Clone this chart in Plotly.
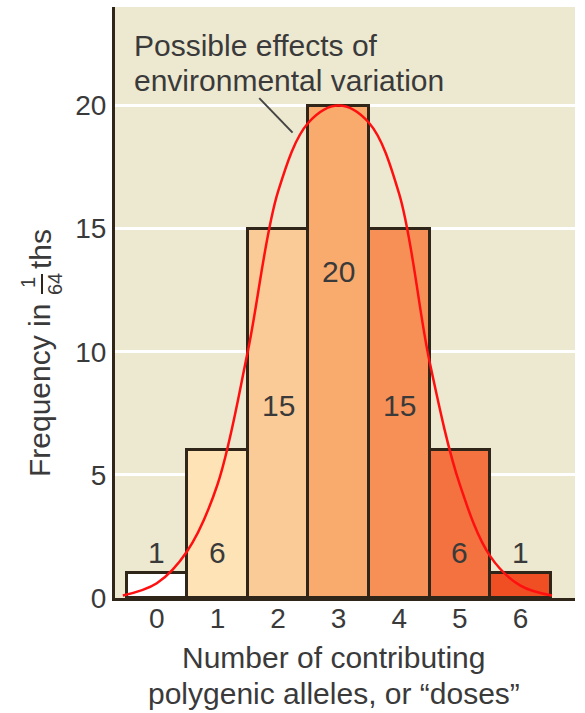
import plotly.graph_objects as go

# ---- data ----
doses = [0, 1, 2, 3, 4, 5, 6]
frequency = [1, 6, 15, 20, 15, 6, 1]
bar_labels = ["1", "6", "15", "20", "15", "6", "1"]
y_ticks = [0, 5, 10, 15, 20]
x_tick_labels = ["0", "1", "2", "3", "4", "5", "6"]

# environmental-variation curve, values every half dose
curve_x = [-0.56, 0, 0.5, 1, 1.5, 2, 2.5, 3, 3.5, 4, 4.5, 5, 5.5, 6, 6.52]
curve_y = [0.1, 0.6, 1.9, 4.6, 10.0, 16.5, 19.3, 20, 19.3, 16.4, 9.6, 4.6, 1.7, 0.5, 0.1]

# ---- styling ----
bar_colors = ["#FFFFFF", "#FDE3B6", "#FBCB97", "#F9AB6E", "#F79057", "#F3723F", "#EF4F23"]
label_y = [1.83, 1.83, 7.8, 13.25, 7.8, 1.83, 1.83]
dark = "#2f2519"
txt = "#3a3a3a"
FONT = "Liberation Sans, Arial, sans-serif"

L, R, T, B = 115, 10, 7, 115
W, H = 585, 713
PW, PH = W - L - R, H - T - B


def px(x):
    return (x - L) / PW


def py(y):
    return (H - B - y) / PH


fig = go.Figure()
fig.add_trace(go.Bar(
    x=doses, y=frequency, width=1,
    marker=dict(color=bar_colors, line=dict(color=dark, width=3)),
    hoverinfo="skip", showlegend=False,
))
fig.add_trace(go.Scatter(
    x=curve_x, y=curve_y, mode="lines",
    line=dict(color="#FF1010", width=2.5, shape="spline", smoothing=1.0),
    hoverinfo="skip", showlegend=False,
))

annotations = []
for xv, lab, ly in zip(doses, bar_labels, label_y):
    annotations.append(dict(x=xv, y=ly, xref="x", yref="y", text=lab, showarrow=False,
                            font=dict(family=FONT, size=30, color=txt),
                            xanchor="center", yanchor="middle"))

# callout text
annotations.append(dict(x=px(132), y=py(45), xref="paper", yref="paper",
                        text="Possible effects of", showarrow=False,
                        font=dict(family=FONT, size=30, color=txt),
                        xanchor="left", yanchor="middle"))
annotations.append(dict(x=px(132), y=py(80), xref="paper", yref="paper",
                        text="environmental variation", showarrow=False,
                        font=dict(family=FONT, size=30, color=txt),
                        xanchor="left", yanchor="middle"))

# x-axis title
annotations.append(dict(x=px(334), y=py(657), xref="paper", yref="paper",
                        text="Number of contributing", showarrow=False,
                        font=dict(family=FONT, size=30, color=txt),
                        xanchor="center", yanchor="middle"))
annotations.append(dict(x=px(334), y=py(693), xref="paper", yref="paper",
                        text="polygenic alleles, or \u201cdoses\u201d", showarrow=False,
                        font=dict(family=FONT, size=30, color=txt),
                        xanchor="center", yanchor="middle"))

# y-axis title (rotated, with stacked fraction)
annotations.append(dict(x=px(40), y=py(391), xref="paper", yref="paper",
                        text="Frequency in", showarrow=False, textangle=-90,
                        font=dict(family=FONT, size=30, color=txt),
                        xanchor="center", yanchor="middle"))
annotations.append(dict(x=px(40), y=py(249), xref="paper", yref="paper",
                        text="ths", showarrow=False, textangle=-90,
                        font=dict(family=FONT, size=30, color=txt),
                        xanchor="center", yanchor="middle"))
annotations.append(dict(x=px(28), y=py(283), xref="paper", yref="paper",
                        text="1", showarrow=False, textangle=-90,
                        font=dict(family=FONT, size=20, color=txt),
                        xanchor="center", yanchor="middle"))
annotations.append(dict(x=px(55), y=py(284), xref="paper", yref="paper",
                        text="64", showarrow=False, textangle=-90,
                        font=dict(family=FONT, size=20, color=txt),
                        xanchor="center", yanchor="middle"))

shapes = [
    dict(type="line", xref="paper", yref="paper", x0=px(42), x1=px(42), y0=py(274), y1=py(294),
         line=dict(color=dark, width=2)),
    dict(type="line", xref="x", yref="y", x0=1.69, y0=20.3, x1=2.24, y1=18.9,
         line=dict(color="#444444", width=2)),
]

fig.update_layout(
    width=W, height=H,
    margin=dict(l=L, r=R, t=T, b=B, pad=0),
    paper_bgcolor="#FFFFFF",
    plot_bgcolor="#EDE8D0",
    bargap=0,
    showlegend=False,
    font=dict(family=FONT, color=txt),
    annotations=annotations,
    shapes=shapes,
    xaxis=dict(range=[-0.69, 6.9], tickvals=doses, ticktext=x_tick_labels,
               showgrid=False, zeroline=False, showline=True, linecolor=dark, linewidth=3,
               ticks="", ticklabelstandoff=-7, automargin=False,
               tickfont=dict(family=FONT, size=28, color=txt), fixedrange=True),
    yaxis=dict(range=[0, 24], tickvals=y_ticks,
               showgrid=True, gridcolor="#FFFFFF", gridwidth=3, zeroline=False,
               showline=True, linecolor=dark, linewidth=3,
               ticks="", ticklabelstandoff=0, automargin=False,
               tickfont=dict(family=FONT, size=28, color=txt), fixedrange=True),
)

fig.write_html("out.html", config={"displayModeBar": False},
               post_script="document.body.style.margin='0';document.body.style.padding='0';")
